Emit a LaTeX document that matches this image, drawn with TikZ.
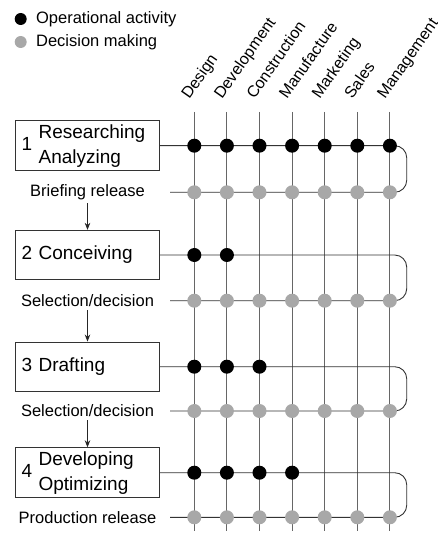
\documentclass[tikz,border=0pt]{standalone}
\usepackage{fontspec}
\setmainfont{Liberation Sans}
\usepackage{tikz}
\usetikzlibrary{positioning,arrows.meta}
\definecolor{dotgray}{gray}{0.66}
\newcommand{\twolines}[2]{\begin{tabular}[c]{@{}l@{}}#1\\#2\end{tabular}}

\begin{document}
\begin{tikzpicture}[x=1pt, y=-1pt, >={Stealth[length=7pt,width=5.5pt]}, every node/.style={align=center},
  phase/.style={draw=black!80, line width=0.8pt, minimum width=143.6pt, minimum height=49.5pt,
    text width=131.6pt, inner xsep=6pt, inner ysep=0pt, align=left, font=\fontsize{19}{25}\selectfont},
  gate/.style={inner sep=1pt, font=\fontsize{16.5}{19}\selectfont},
  colhead/.style={inner sep=0pt, rotate=55, anchor=base west, font=\fontsize{16}{19}\selectfont},
  opdot/.style={circle, fill=black, minimum size=14pt, inner sep=0pt},
  decdot/.style={circle, fill=dotgray, minimum size=14pt, inner sep=0pt},
  gridline/.style={draw=black!60, line width=0.9pt},
  rowline/.style={draw=black!80, line width=0.9pt, rounded corners=12pt}]
  \useasboundingbox (0,0) rectangle (437,534);

  % legend
  \node[opdot, minimum size=12pt] (opkey) at (20.7,19) {};
  \node[gate, right=8pt of opkey] (optext) {Operational activity};
  \node[decdot, minimum size=12pt] (deckey) at (20.7,42) {};
  \node[gate, right=8pt of deckey] (dectext) {Decision making};

  % columns
  \foreach \k/\name in {1/Design, 2/Development, 3/Construction, 4/Manufacture,
                        5/Marketing, 6/Sales, 7/Management} {
    \pgfmathsetmacro\cx{194.3+32.6*(\k-1)}
    \node[colhead] (head\k) at (\cx-5,100) {\name};
    \coordinate (ctop\k) at (\cx,112);
    \coordinate (cbot\k) at (\cx,531);
    \draw[gridline] (ctop\k) -- (cbot\k);
  }

  % phases
  \node[phase] (box1) at (87.5,145.7) {1 \twolines{Researching}{Analyzing}};
  \node[phase] (box2) at (87.5,255) {2 Conceiving};
  \node[phase] (box3) at (87.5,366.7) {3 Drafting};
  \node[phase] (box4) at (87.5,472.7) {4 \twolines{Developing}{Optimizing}};

  % releases
  \node[gate] (gate1) at (87.5,192.3) {Briefing release};
  \node[gate] (gate2) at (87.5,300.7) {Selection/decision};
  \node[gate] (gate3) at (87.5,411) {Selection/decision};
  \node[gate] (gate4) at (87.5,517.3) {Production release};

  \draw[->, black!85, line width=0.8pt, shorten <=2pt] (gate1) -- (box2);
  \draw[->, black!85, line width=0.8pt, shorten <=2pt] (gate2) -- (box3);
  \draw[->, black!85, line width=0.8pt, shorten <=2pt] (gate3) -- (box4);

  % rows with their dots
  \foreach \i/\yb/\yg/\n in {1/145.7/192.3/7, 2/255/300.7/2, 3/366.7/411/3, 4/472.7/517.3/4} {
    \coordinate (gin\i) at (170,\yg);
    \coordinate (bend\i) at (406.7,\yb);
    \coordinate (back\i) at (406.7,\yg);
    \draw[rowline] (box\i.east) -- (bend\i) -- (back\i) -- (gin\i);
    \foreach \k in {1,...,7} {
      \pgfmathsetmacro\cx{194.3+32.6*(\k-1)}
      \node[decdot] (dec\i\k) at (\cx,\yg) {};
    }
    \foreach \k in {1,...,\n} {
      \pgfmathsetmacro\cx{194.3+32.6*(\k-1)}
      \node[opdot] (op\i\k) at (\cx,\yb) {};
    }
  }
\end{tikzpicture}
\end{document}
